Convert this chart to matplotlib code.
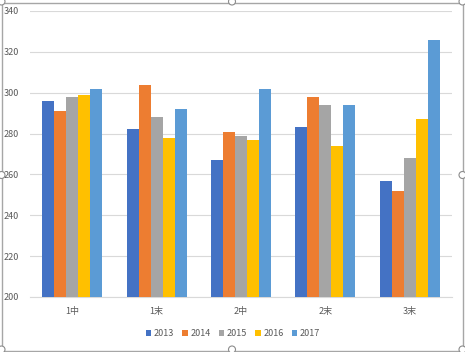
import matplotlib
matplotlib.use("Agg")
import matplotlib.pyplot as plt
import numpy as np
from matplotlib.patches import Rectangle, Ellipse

plt.rcParams['font.family'] = ['Noto Sans CJK JP', 'DejaVu Sans']

categories = ["1中", "1末", "2中", "2末", "3末"]
series_names = ["2013", "2014", "2015", "2016", "2017"]
v2013 = [296, 282, 267, 283, 257]
v2014 = [291, 304, 281, 298, 252]
v2015 = [298, 288, 279, 294, 268]
v2016 = [299, 278, 277, 274, 287]
v2017 = [302, 292, 302, 294, 326]
series = [v2013, v2014, v2015, v2016, v2017]
colors = ["#4472C4", "#ED7D31", "#A5A5A5", "#FFC000", "#5B9BD5"]
yticks = [200, 220, 240, 260, 280, 300, 320, 340]

W, H = 465, 352
fig = plt.figure(figsize=(W / 100, H / 100), dpi=100)
ax = fig.add_axes([30 / W, 1 - 297 / H, (452 - 30) / W, (297 - 11) / H])

x = np.arange(len(categories))
bw = 0.142
for i, (name, vals, c) in enumerate(zip(series_names, series, colors)):
    ax.bar(x + (i - 2) * bw, np.array(vals) - 200, bottom=200, width=bw,
           color=c, label=name, zorder=3)

ax.set_xlim(-0.5, len(categories) - 0.5)
ax.set_ylim(200, 340)
ax.set_yticks(yticks)
ax.set_yticklabels([str(t) for t in yticks])
ax.set_xticks(x)
ax.set_xticklabels(categories)
ax.grid(axis='y', color='#D9D9D9', linewidth=0.8, zorder=0)
for s in ['top', 'right', 'left']:
    ax.spines[s].set_visible(False)
ax.spines['bottom'].set_color('#D9D9D9')
ax.spines['bottom'].set_linewidth(0.8)
ax.tick_params(axis='both', length=0, labelsize=6.5, colors='#595959')
ax.tick_params(axis='y', pad=8)
ax.tick_params(axis='x', pad=7)

leg = fig.legend(loc='center', bbox_to_anchor=(233 / W, 1 - 334 / H), ncol=5,
                 frameon=False, fontsize=6.5, handlelength=0.6, handleheight=0.6,
                 handletextpad=0.3, columnspacing=0.9)
for t in leg.get_texts():
    t.set_color('#595959')

# chart border and sizing handles
fig.patches.append(Rectangle((1.5 / W, 1.5 / H), (W - 4) / W, (H - 4) / H,
                             transform=fig.transFigure, fill=False,
                             edgecolor='#A6A6A6', linewidth=1.0))
for (hx, hy) in [(1.5, 1.5), (232, 1.5), (W - 2.5, 1.5),
                 (1.5, 175), (W - 2.5, 175),
                 (1.5, H - 2.5), (232, H - 2.5), (W - 2.5, H - 2.5)]:
    fig.patches.append(Ellipse((hx / W, 1 - hy / H), 7 / W, 7 / H,
                               transform=fig.transFigure, facecolor='white',
                               edgecolor='#8C8C8C', linewidth=0.8, zorder=10))

fig.savefig("out.png", dpi=100)
